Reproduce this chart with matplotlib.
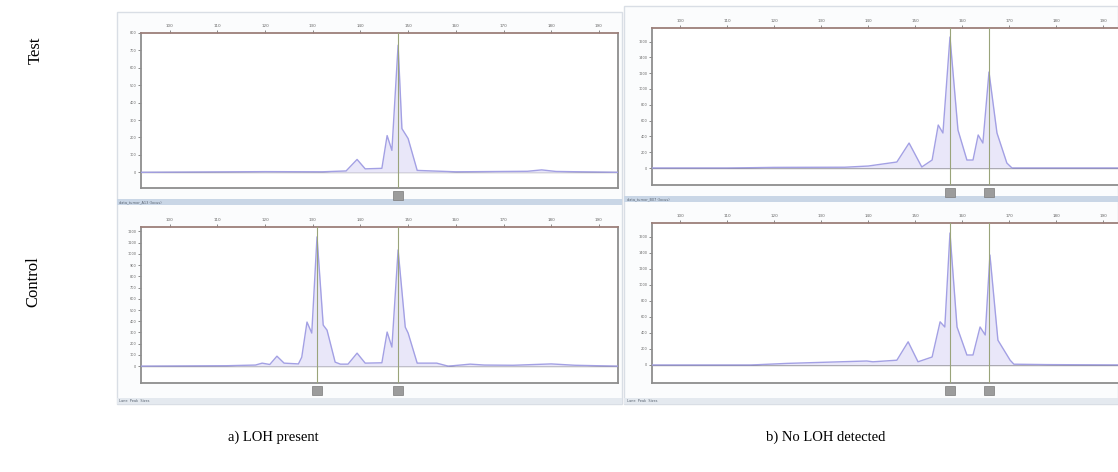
import matplotlib
matplotlib.use('Agg')
import matplotlib.pyplot as plt
import matplotlib.patches as mpatches

plt.rcParams['font.family'] = ['Liberation Serif', 'DejaVu Serif']

W, H = 1118, 472

# ── trace data (size in bp, signal in RFU) ────────────────────────────────────
a_test_x = [94, 120, 132, 137, 139.3, 141, 144.5, 145.6, 146.6, 147.9, 148.7, 150, 151.9, 160, 175, 178, 181, 194]
a_test_y = [0, 4, 3, 8, 74, 20, 23, 211, 126, 730, 251, 194, 11, 3, 6, 14, 5, 0]

a_ctrl_x = [94, 112, 118, 119.4, 121, 122.5, 124, 127, 127.7, 128.8, 129.8, 130.9, 132.2, 133, 134.7,
            135.8, 137.4, 139.3, 141, 144.5, 145.6, 146.6, 147.9, 149.4, 150, 151.9, 156, 158.4,
            163, 166, 172, 180, 185, 194]
a_ctrl_y = [0, 4, 10, 27, 15, 89, 27, 20, 80, 393, 295, 1152, 366, 321, 36,
            18, 18, 116, 27, 30, 304, 170, 1036, 348, 295, 27, 27, 0,
            18, 10, 8, 20, 8, 0]

b_test_x = [94, 110, 120, 135, 140, 146.1, 148.7, 151.4, 153.6, 154.9, 155.9, 157.4, 159.1, 161,
            162.3, 163.4, 164.4, 165.7, 167.4, 169.5, 170.6, 195]
b_test_y = [0, 0, 8, 10, 25, 76, 316, 13, 101, 544, 443, 1658, 481, 101,
            101, 418, 316, 1215, 443, 63, 0, 0]

b_ctrl_x = [94, 115, 122.7, 139.7, 141, 146.1, 148.5, 150.6, 153.6, 155.3, 156.3, 157.4, 158.9,
            161, 162.3, 163.8, 164.9, 165.9, 167.6, 170.2, 171, 178, 195]
b_ctrl_y = [0, 0, 20, 50, 40, 60, 290, 40, 100, 540, 475, 1650, 475,
            125, 125, 475, 375, 1375, 310, 60, 10, 5, 0]

a_bins = [147.9]
a_ctrl_bins = [130.9, 147.9]
b_bins = [157.4, 165.7]

size_ticks = [100, 110, 120, 130, 140, 150, 160, 170, 180, 190]

panels = [
    # box in px (x0, x1, y0, y1), px per bp, data, bins, ylim, ytick step, top tick
    dict(box=(141, 618, 33, 188), ppb=4.77, x=a_test_x, y=a_test_y, bins=a_bins,
         ylim=(-90, 800), step=100, ymax=800),
    dict(box=(141, 618, 227, 383), ppb=4.77, x=a_ctrl_x, y=a_ctrl_y, bins=a_ctrl_bins,
         ylim=(-150, 1240), step=100, ymax=1200),
    dict(box=(652, 1125, 28, 185), ppb=4.7, x=b_test_x, y=b_test_y, bins=b_bins,
         ylim=(-215, 1772), step=200, ymax=1600),
    dict(box=(652, 1125, 223, 383), ppb=4.7, x=b_ctrl_x, y=b_ctrl_y, bins=b_bins,
         ylim=(-225, 1775), step=200, ymax=1600),
]

fig = plt.figure(figsize=(W / 100, H / 100), dpi=100)


def fig_rect(x0, y0, x1, y1, **kw):
    # rectangle in pixel coords (top-left origin), drawn under the axes
    r = mpatches.Rectangle((x0 / W, 1 - y1 / H), (x1 - x0) / W, (y1 - y0) / H,
                           transform=fig.transFigure, zorder=-5, **kw)
    fig.patches.append(r)


# window frames
fig_rect(117, 12, 622, 404, facecolor='#fbfcfd', edgecolor='#d9dee5', lw=1.0)
fig_rect(624, 6, 1118, 404, facecolor='#fbfcfd', edgecolor='#d9dee5', lw=1.0)
# separator bars between test / control
fig_rect(117, 199, 622, 205, facecolor='#c9d6e6', edgecolor='none')
fig_rect(624, 196, 1118, 202, facecolor='#c9d6e6', edgecolor='none')
# status bars
fig_rect(117, 398, 622, 404, facecolor='#e4e9ef', edgecolor='none')
fig_rect(624, 398, 1118, 404, facecolor='#e4e9ef', edgecolor='none')
for tx, ty, s in [(119, 202, 'data_tumor_A13 (locus)'), (627, 199, 'data_tumor_B07 (locus)'),
                  (119, 401, 'Lane  Peak  Sizes'), (627, 401, 'Lane  Peak  Sizes')]:
    fig.text(tx / W, 1 - ty / H, s, fontsize=2.5, color='#55606e', va='center', family='DejaVu Sans')

for p in panels:
    x0, x1, y0, y1 = p['box']
    ax = fig.add_axes([x0 / W, 1 - y1 / H, (x1 - x0) / W, (y1 - y0) / H])
    ax.set_xlim(94, 94 + (x1 - x0) / p['ppb'])
    ax.set_ylim(*p['ylim'])
    yspan = p['ylim'][1] - p['ylim'][0]
    ax.axhline(0, color='#6d6d6d', lw=0.9, zorder=1)
    ax.fill_between(p['x'], 0, p['y'], color='#e9e7f9', lw=0, zorder=2)
    ax.plot(p['x'], p['y'], color='#a3a0e4', lw=1.0, zorder=3)
    for b in p['bins']:
        ax.axvline(b, color='#9aa47a', lw=0.8, zorder=4)
        ax.add_patch(mpatches.Rectangle((b - 1.1, p['ylim'][0] - yspan * 0.075), 2.2, yspan * 0.055,
                                        facecolor='#9c9c9c', edgecolor='#7a7a7a', lw=0.5,
                                        clip_on=False, zorder=5))
    ax.xaxis.tick_top()
    ax.set_xticks(size_ticks)
    ax.set_xticklabels([str(t) for t in size_ticks], fontsize=3, color='#666666', family='DejaVu Sans')
    yt = list(range(0, p['ymax'] + 1, p['step']))
    ax.set_yticks(yt)
    ax.set_yticklabels([str(t) for t in yt], fontsize=2.5, color='#666666', family='DejaVu Sans')
    ax.tick_params(length=2, width=0.6, color='#777777', pad=1.5)
    for s in ax.spines.values():
        s.set_color('#8e8e8e')
        s.set_linewidth(1.3)
    ax.spines['top'].set_color('#9c7f7a')
    ax.set_facecolor('white')

# row labels
fig.text(36 / W, 1 - 50 / H, 'Test', rotation=90, fontsize=12, ha='center', va='center')
fig.text(33 / W, 1 - 282 / H, 'Control', rotation=90, fontsize=12, ha='center', va='center')

# captions
fig.text(273 / W, 1 - 437 / H, 'a) LOH present', fontsize=10.5, ha='center', va='center')
fig.text(826 / W, 1 - 437 / H, 'b) No LOH detected', fontsize=10.5, ha='center', va='center')

fig.savefig('out.png', dpi=100)
